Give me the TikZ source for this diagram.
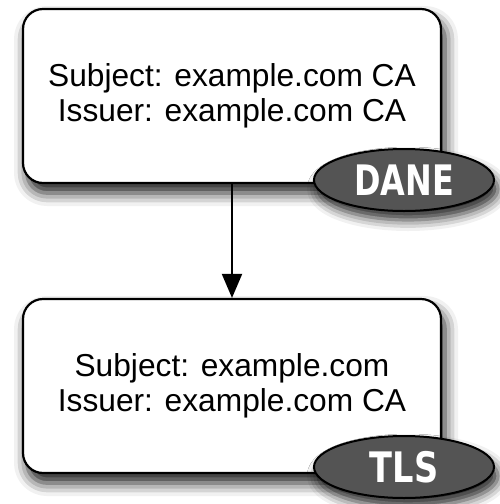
\documentclass[tikz,border=0pt]{standalone}
\usepackage{fontspec}
\usepackage{graphicx}
\setmainfont{Liberation Sans}
\newfontfamily\badgefont{DejaVu Sans}
\usetikzlibrary{shapes.geometric,arrows.meta,shadows.blur}
\begin{document}
\begin{tikzpicture}[x=1pt,y=-1pt,
  cert/.style={draw=black, line width=2.2pt, fill=white, rounded corners=20pt,
    minimum width=418pt, minimum height=174pt, inner sep=0pt, align=center,
    font=\fontsize{31.7}{35.5}\selectfont,
    blur shadow={shadow xshift=4pt, shadow yshift=-10pt, shadow blur radius=13pt, shadow opacity=90}},
  badge/.style={ellipse, draw=black, line width=2pt, fill=black!67, text=white,
    minimum width=180pt, minimum height=62pt, inner sep=0pt,
    font=\badgefont\bfseries\fontsize{42}{42}\selectfont,
    blur shadow={shadow xshift=4pt, shadow yshift=-9pt, shadow blur radius=11pt, shadow opacity=85}},
  link/.style={line width=2pt, -{Triangle[length=24pt,width=20pt]}}
]
\useasboundingbox (0,0) rectangle (499,504);
\node[cert] (ca) at (232,96) {Subject: example.com CA\\Issuer: example.com CA};
\node[cert] (ee) at (232,386) {Subject: example.com\\Issuer: example.com CA};
\draw[link] (ca.south) -- (ee.north);
\node[badge] (dane) at (404,180) {\scalebox{0.76}[1]{DANE}};
\node[badge] (tls) at (404,467) {\scalebox{0.8}[1]{TLS}};
\end{tikzpicture}
\end{document}
